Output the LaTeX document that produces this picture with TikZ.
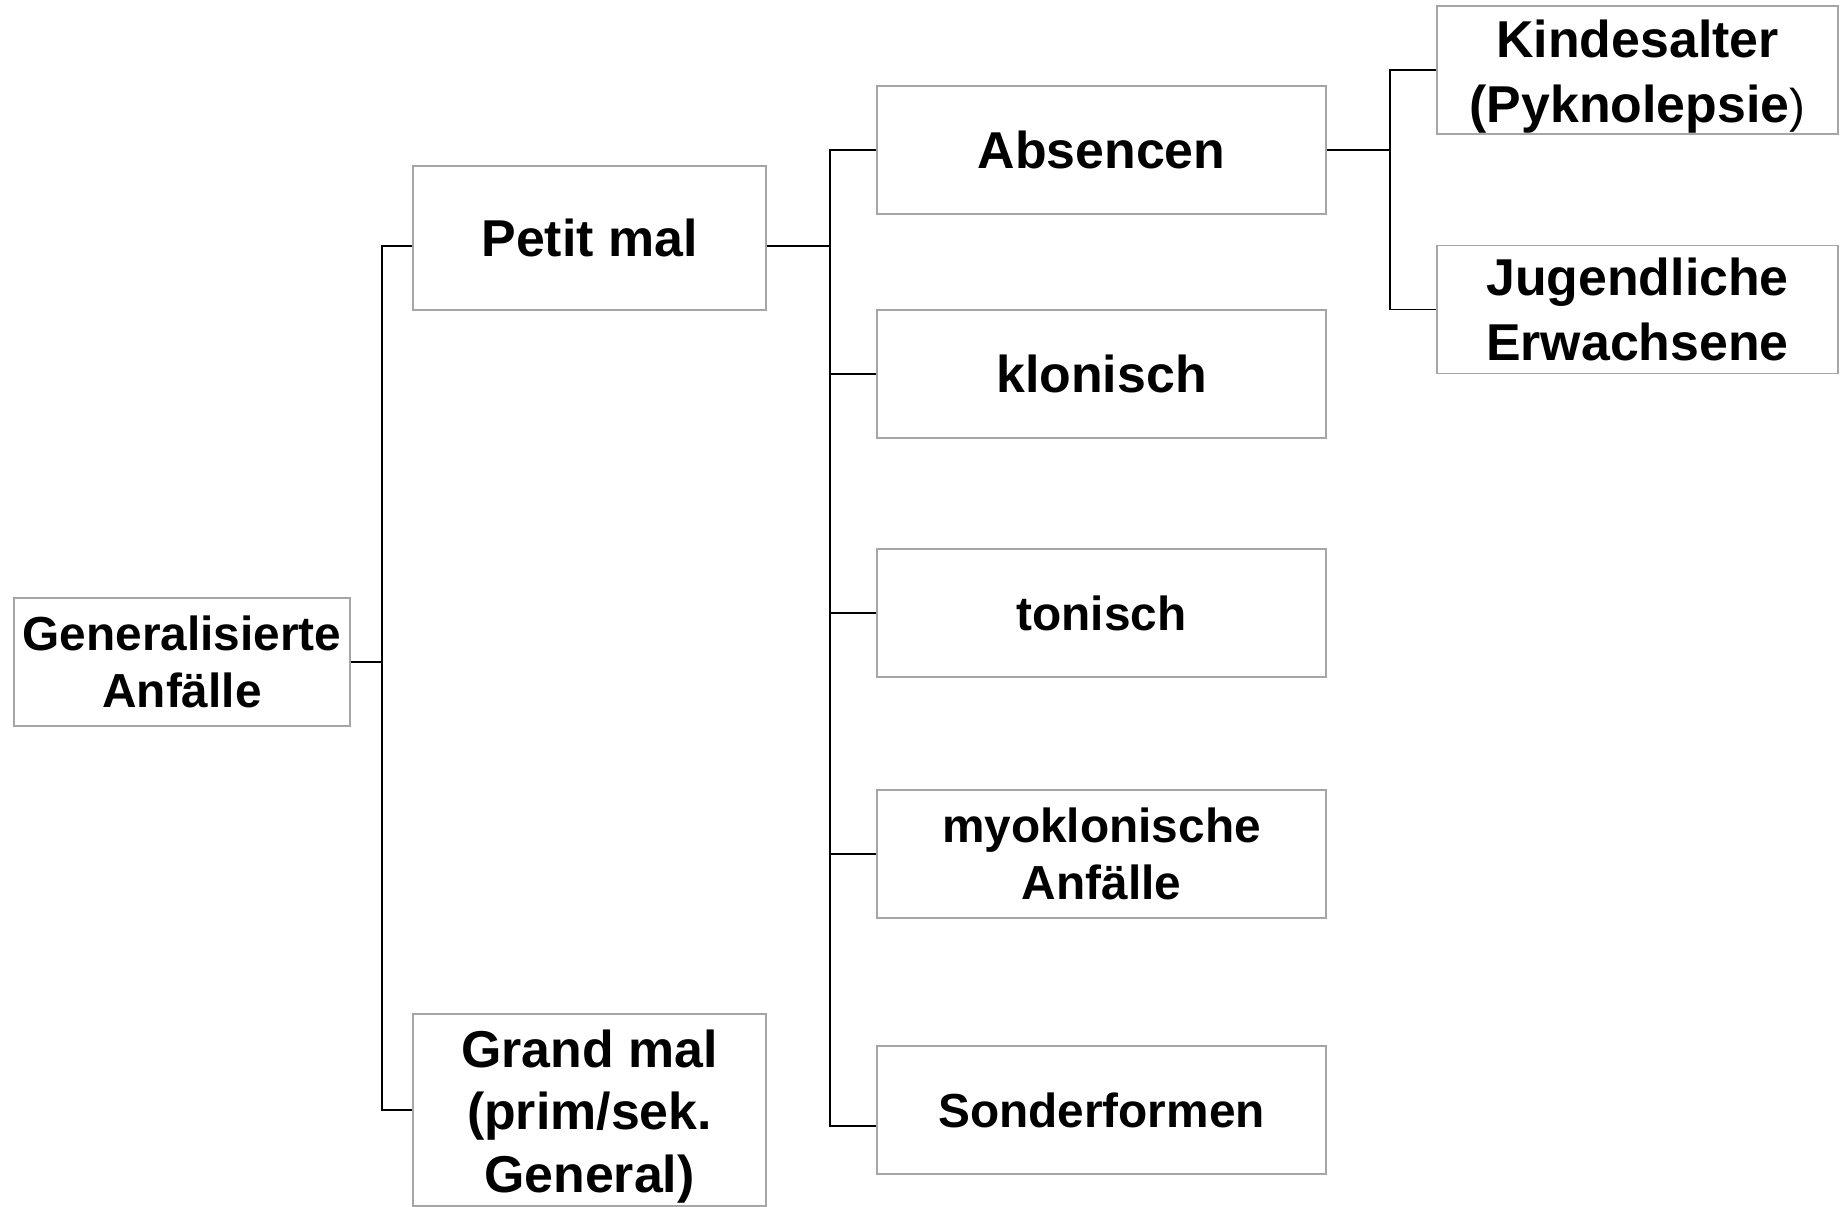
\documentclass[tikz,border=0pt]{standalone}
\usepackage{fontspec}
\setmainfont{Liberation Sans}
\usepackage{tikz}
\usetikzlibrary{positioning, calc}
\definecolor{frameColor}{RGB}{166, 166, 166}
% lower the ink of a line without changing its box
\newcommand{\lowered}[1]{\raisebox{-0.13cm}[\height][\depth]{#1}}

\begin{document}
\begin{tikzpicture}[
    box/.style={rectangle, draw=frameColor, line width=0.8pt, inner sep=0pt, minimum height=2.56cm, align=center, font=\fontsize{29.5}{36}\selectfont\bfseries},
    smallbox/.style={box, font=\fontsize{27.2}{32}\selectfont\bfseries},
    link/.style={line width=0.85pt, black}
]
    \useasboundingbox (0,0) rectangle (36.82,-24.14);

    % Root
    \node[smallbox, minimum width=6.72cm] (general) at (3.64,-13.24) {Generalisierte\\Anfälle};

    % First level
    \node[box, minimum width=7.06cm, minimum height=2.88cm] (petit) at (11.79,-4.76) {Petit mal};
    \node[box, minimum width=7.06cm, minimum height=3.84cm, font=\fontsize{29.5}{35.5}\selectfont\bfseries] (grand) at (11.79,-22.2) {\lowered{Grand mal}\\\lowered{(prim/sek.}\\\lowered{General)}};

    % Petit mal forms
    \node[box, minimum width=8.98cm] (absencen) at (22.03,-3.0) {Absencen};
    \node[box, minimum width=8.98cm] (klonisch) at (22.03,-7.48) {klonisch};
    \node[smallbox, minimum width=8.98cm] (tonisch) at (22.03,-12.26) {tonisch};
    \node[smallbox, minimum width=8.98cm] (myo) at (22.03,-17.08) {myoklonische\\Anfälle};
    \node[smallbox, minimum width=8.98cm] (sonder) at (22.03,-22.2) {Sonderformen};

    % Absencen by age
    \node[box, minimum width=8.02cm, font=\fontsize{29.5}{37.2}\selectfont\bfseries] (kind) at (32.75,-1.4) {\lowered{Kindesalter}\\\lowered{(Pyknolepsie{\mdseries\fontsize{27}{37.2}\selectfont)}}};
    \node[box, minimum width=8.02cm, font=\fontsize{29.5}{36.7}\selectfont\bfseries] (jugend) at (32.75,-6.19) {Jugendliche\\Erwachsene};

    % Junction columns
    \coordinate (jA) at (7.64,0);
    \coordinate (jB) at (16.6,0);
    \coordinate (jC) at (27.8,0);
    \coordinate (petitIn) at ([yshift=-0.16cm]petit.west);
    \coordinate (petitOut) at ([yshift=-0.16cm]petit.east);
    \coordinate (sonderIn) at ([yshift=-0.32cm]sonder.west);

    % Lines
    \draw[link] (general.east) -- (general.east -| jA);
    \draw[link] (petitIn) -| (jA |- grand.west) -- (grand.west);
    \draw[link] (petitOut) -- (petitOut -| jB);
    \draw[link] (absencen.west) -| (jB |- sonderIn) -- (sonderIn);
    \foreach \n in {klonisch, tonisch, myo}
        \draw[link] (\n.west) -- (\n.west -| jB);
    \draw[link] (absencen.east) -- (absencen.east -| jC);
    \draw[link] (kind.west) -| (jC |- jugend.west) -- (jugend.west);

\end{tikzpicture}
\end{document}
